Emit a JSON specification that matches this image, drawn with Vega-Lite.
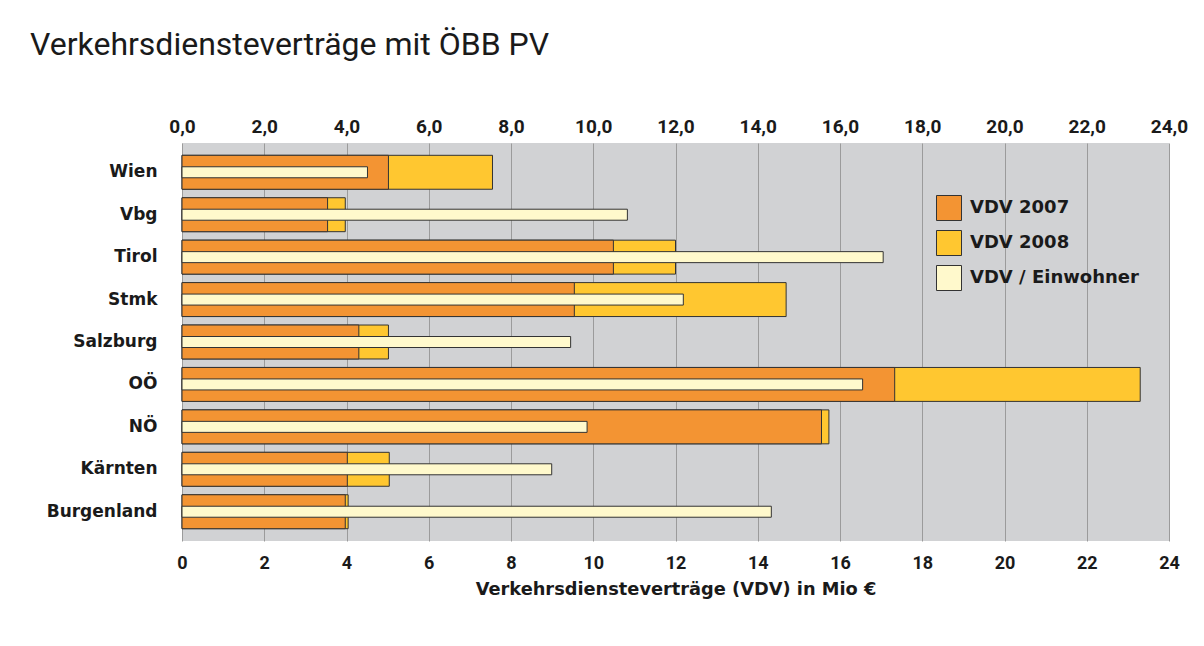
{
  "$schema": "https://vega.github.io/schema/vega-lite/v6.json",
  "width": 987,
  "height": 398,
  "autosize": {"type": "none"},
  "padding": {"left": 182, "top": 143, "right": 35, "bottom": 105},
  "background": "white",
  "title": {
    "text": "Verkehrsdiensteverträge mit ÖBB PV",
    "anchor": "start",
    "frame": "group",
    "dx": -152,
    "offset": 55,
    "font": "Roboto",
    "fontSize": 32,
    "fontWeight": "normal",
    "color": "#1a1a1a"
  },
  "data": {
    "values": [
      {"Land": "Wien", "v2007": 5.02, "v2008": 7.55, "ew": 4.51},
      {"Land": "Vbg", "v2007": 3.54, "v2008": 3.97, "ew": 10.83},
      {"Land": "Tirol", "v2007": 10.49, "v2008": 12.0, "ew": 17.05},
      {"Land": "Stmk", "v2007": 9.54, "v2008": 14.69, "ew": 12.19},
      {"Land": "Salzburg", "v2007": 4.3, "v2008": 5.02, "ew": 9.45},
      {"Land": "OÖ", "v2007": 17.33, "v2008": 23.3, "ew": 16.55},
      {"Land": "NÖ", "v2007": 15.55, "v2008": 15.73, "ew": 9.85},
      {"Land": "Kärnten", "v2007": 4.02, "v2008": 5.04, "ew": 8.99},
      {"Land": "Burgenland", "v2007": 3.97, "v2008": 4.04, "ew": 14.33}
    ]
  },
  "encoding": {
    "y": {
      "field": "Land",
      "type": "nominal",
      "sort": null,
      "scale": {"paddingInner": 0.2, "paddingOuter": 0.29},
      "axis": {
        "title": null,
        "ticks": false,
        "domain": false,
        "labelPadding": 25,
        "labelFont": "DejaVu Sans",
        "labelFontSize": 17,
        "labelFontWeight": "bold",
        "labelColor": "#1a1a1a"
      }
    }
  },
  "layer": [
    {
      "mark": {"type": "bar", "stroke": "#333333", "strokeWidth": 1},
      "encoding": {
        "x": {
          "field": "v2008",
          "type": "quantitative",
          "scale": {"domain": [0, 24], "nice": false},
          "axis": {
            "orient": "bottom",
            "title": "Verkehrsdiensteverträge (VDV) in Mio €",
            "titleFont": "DejaVu Sans",
            "titleFontSize": 17.8,
            "titleFontWeight": "bold",
            "titleColor": "#1a1a1a",
            "titlePadding": 8,
            "values": [0, 2, 4, 6, 8, 10, 12, 14, 16, 18, 20, 22, 24],
            "format": "d",
            "grid": true,
            "gridColor": "#9b9b9b",
            "gridWidth": 1,
            "ticks": false,
            "domain": false,
            "labelFlush": false,
            "labelPadding": 13,
            "labelFont": "Roboto",
            "labelFontSize": 18,
            "labelFontWeight": "bold",
            "labelColor": "#1a1a1a"
          }
        },
        "color": {
          "datum": "VDV 2008",
          "scale": {
            "domain": ["VDV 2007", "VDV 2008", "VDV / Einwohner"],
            "range": ["#f39433", "#ffc730", "#fff9cc"]
          },
          "legend": {
            "title": null,
            "orient": "none",
            "legendX": 754,
            "legendY": 52,
            "padding": 0,
            "symbolType": "square",
            "symbolSize": 625,
            "symbolStrokeColor": "#333333",
            "symbolStrokeWidth": 1,
            "symbolOpacity": 1,
            "rowPadding": 5,
            "labelOffset": 8,
            "labelFont": "DejaVu Sans",
            "labelFontSize": 18,
            "labelFontWeight": "bold",
            "labelColor": "#1a1a1a",
            "labelLimit": 300
          }
        }
      }
    },
    {
      "mark": {"type": "bar", "stroke": "#333333", "strokeWidth": 1},
      "encoding": {
        "x": {
          "field": "v2007",
          "type": "quantitative",
          "scale": {"domain": [0, 24], "nice": false},
          "axis": null
        },
        "color": {"datum": "VDV 2007"}
      }
    },
    {
      "mark": {"type": "bar", "stroke": "#333333", "strokeWidth": 1, "height": 11},
      "encoding": {
        "x": {
          "field": "ew",
          "type": "quantitative",
          "scale": {"domain": [0, 24], "nice": false},
          "axis": {
            "orient": "top",
            "title": null,
            "values": [0, 2, 4, 6, 8, 10, 12, 14, 16, 18, 20, 22, 24],
            "labelExpr": "replace(format(datum.value, '.1f'), '.', ',')",
            "grid": false,
            "ticks": false,
            "domain": false,
            "labelFlush": false,
            "labelPadding": 7,
            "labelFont": "Roboto",
            "labelFontSize": 19,
            "labelFontWeight": "bold",
            "labelColor": "#1a1a1a"
          }
        },
        "color": {"datum": "VDV / Einwohner"}
      }
    }
  ],
  "resolve": {"scale": {"x": "independent"}, "axis": {"x": "independent"}},
  "config": {
    "view": {"fill": "#d1d2d4", "stroke": null}
  }
}
